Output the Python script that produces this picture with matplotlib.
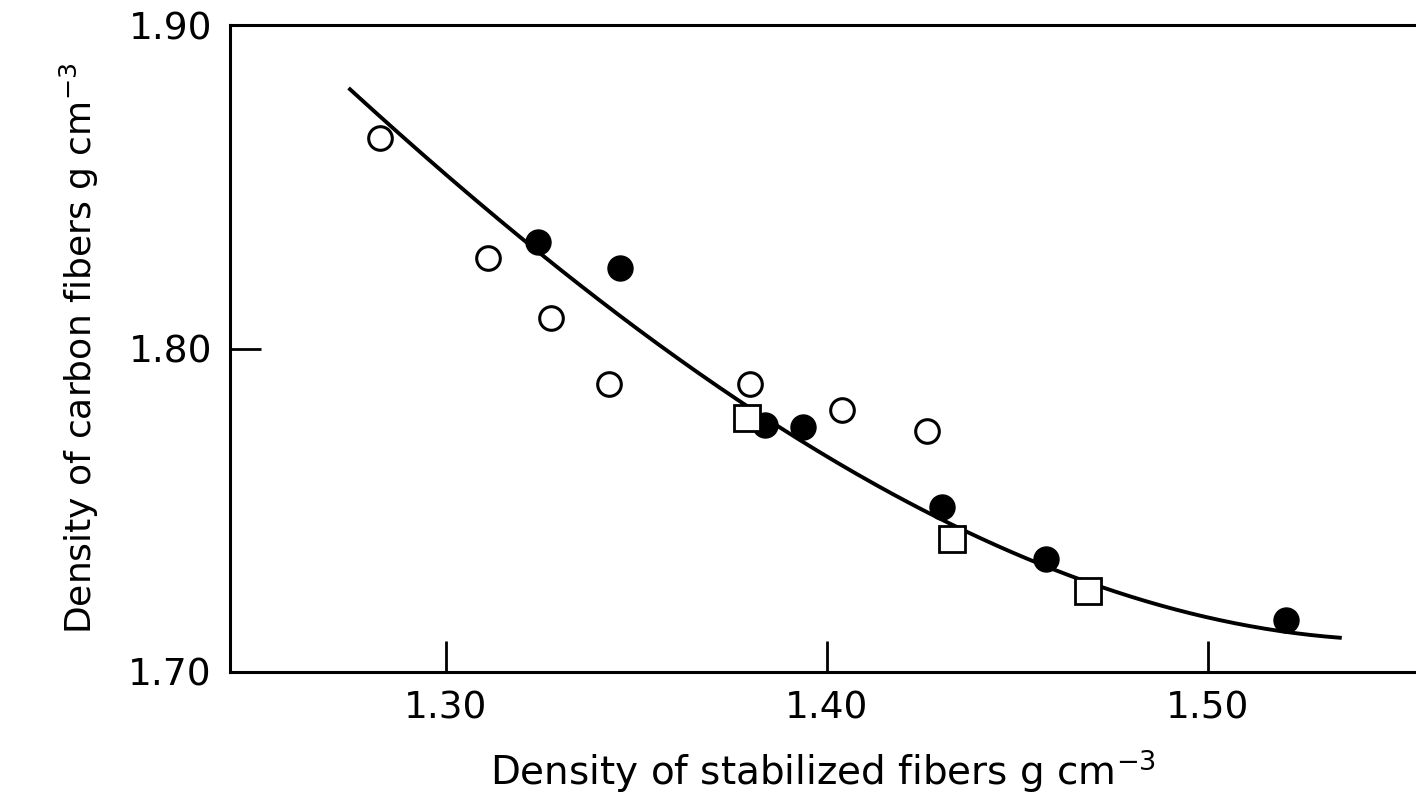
import numpy as np
import matplotlib
matplotlib.use("Agg")
import matplotlib.pyplot as plt

# Open symbols
open_x = [1.2827, 1.3110, 1.3276, 1.3428, 1.3798, 1.4039, 1.4262]
open_y = [1.8651, 1.8281, 1.8093, 1.7889, 1.7889, 1.7809, 1.7744]
# Filled symbols
filled_x = [1.3241, 1.3457, 1.3837, 1.3937, 1.4302, 1.4575, 1.5205]
filled_y = [1.8330, 1.8250, 1.7765, 1.7756, 1.7509, 1.7349, 1.7160]
# Open squares
square_x = [1.3790, 1.4328, 1.4685]
square_y = [1.7784, 1.7410, 1.7250]
# Fitted curve, points
curve_x = [1.2748, 1.3562, 1.3667, 1.4105, 1.4979, 1.5346]
curve_y = [1.8802, 1.8003, 1.7923, 1.7599, 1.7170, 1.7108]

xticks = [1.30, 1.40, 1.50]
xtick_labels = ["1.30", "1.40", "1.50"]
yticks = [1.70, 1.80, 1.90]
ytick_labels = ["1.70", "1.80", "1.90"]

plt.rcParams['font.family'] = ['DejaVu Sans']
plt.rcParams['mathtext.fontset'] = 'dejavusans'

fig = plt.figure(figsize=(14.16, 7.99), dpi=100)
ax = fig.add_axes([230/1416, 1-672/799, 1-230/1416, (672-25)/799])

coef = np.polyfit(curve_x, curve_y, 3)
xs = np.linspace(min(curve_x), max(curve_x), 200)
ax.plot(xs, np.polyval(coef, xs), color='black', lw=2.8, zorder=2)

ax.plot(open_x, open_y, 'o', ms=17, mfc='white', mec='black', mew=2.2, zorder=3)
ax.plot(filled_x, filled_y, 'o', ms=18, mfc='black', mec='black', mew=1, zorder=3)
ax.plot(square_x, square_y, 's', ms=18.5, mfc='white', mec='black', mew=2.0, zorder=4)

ax.set_xlim(1.2433, 1.5546)
ax.set_ylim(1.70, 1.90)
ax.spines['right'].set_visible(False)
for s in ['left', 'top', 'bottom']:
    ax.spines[s].set_linewidth(2.2)

ax.set_xticks(xticks)
ax.set_xticklabels(xtick_labels)
ax.set_yticks(yticks)
ax.set_yticklabels(ytick_labels)
ax.tick_params(direction='in', length=22, width=2, labelsize=27, pad=13)

ax.set_xlabel("Density of stabilized fibers g cm$^{-3}$", fontsize=28, labelpad=15)
ax.set_ylabel("Density of carbon fibers g cm$^{-3}$", fontsize=26, labelpad=20)

fig.savefig("out.png", dpi=100)
